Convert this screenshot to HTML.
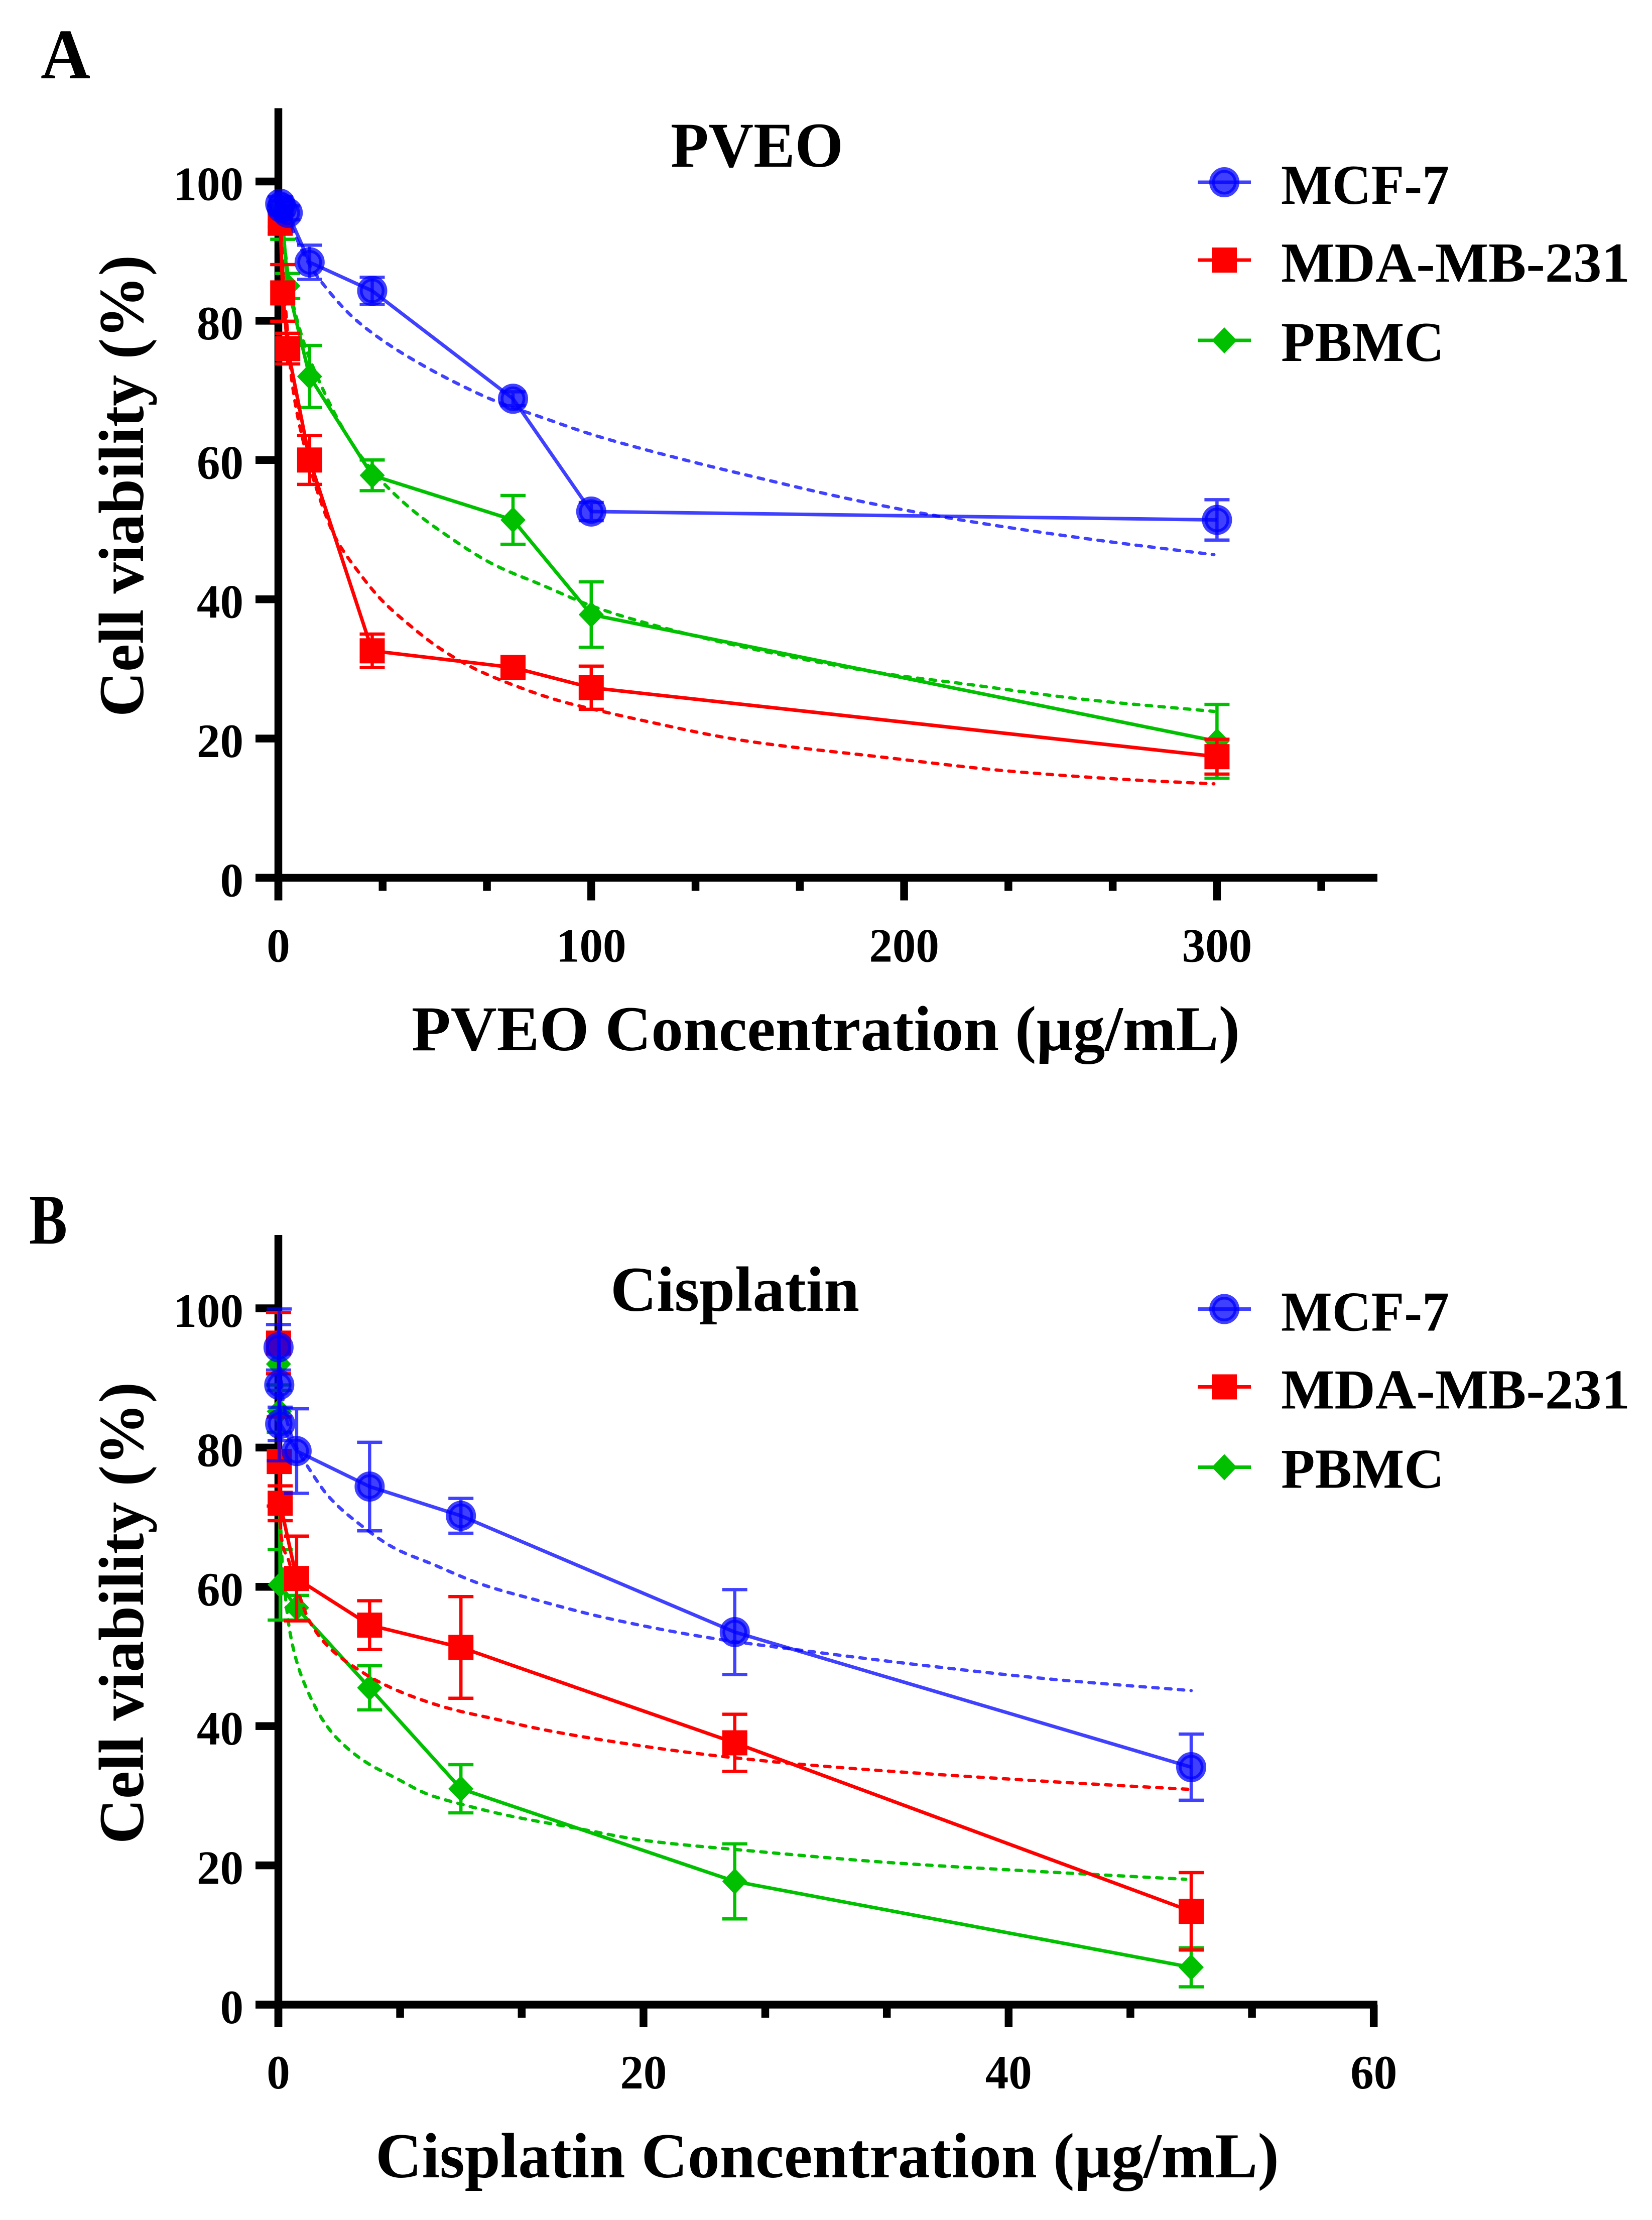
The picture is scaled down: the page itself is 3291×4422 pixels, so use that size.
<!DOCTYPE html>
<html lang="en">
<head>
<meta charset="utf-8">
<title>Cell viability: PVEO and Cisplatin</title>
<style>
html,body{margin:0;padding:0;background:#fff;}
svg{display:block;}
text{font-family:"Liberation Serif",serif;font-weight:bold;fill:#000;}
</style>
</head>
<body>
<svg id="figure" xmlns="http://www.w3.org/2000/svg" width="3291" height="4422" viewBox="0 0 3291 4422">
<rect x="0" y="0" width="3291" height="4422" fill="#fff"/>
<g id="panel-a"></g>
<g id="panel-b"></g>

<text x="81" y="156" font-size="142" textLength="99" lengthAdjust="spacingAndGlyphs">A</text>
<text x="1336" y="332" font-size="127" textLength="344" lengthAdjust="spacingAndGlyphs">PVEO</text>
<text transform="translate(285 1428) rotate(-90)" font-size="127" textLength="920" lengthAdjust="spacingAndGlyphs">Cell viability (%)</text>
<text x="820" y="2092" font-size="127" textLength="1650" lengthAdjust="spacingAndGlyphs">PVEO Concentration (µg/mL)</text>

<text x="58" y="2477" font-size="142" textLength="76" lengthAdjust="spacingAndGlyphs">B</text>
<text x="1216" y="2611" font-size="127" textLength="496" lengthAdjust="spacingAndGlyphs">Cisplatin</text>
<text transform="translate(285 3673) rotate(-90)" font-size="127" textLength="920" lengthAdjust="spacingAndGlyphs">Cell viability (%)</text>
<text x="748" y="4337" font-size="127" textLength="1800" lengthAdjust="spacingAndGlyphs">Cisplatin Concentration (µg/mL)</text>
</svg>

<script>
// ---------- Shared axis data ----------
const yTickValues = [0, 20, 40, 60, 80, 100];
const seriesNames = ['MCF-7', 'MDA-MB-231', 'PBMC'];

// ---------- Panel A (PVEO) data ----------
const aXMajor = [0, 100, 200, 300];
const aXMinor = [33.33, 66.67, 133.33, 166.67, 233.33, 266.67, 333.33];

const aMcfX = [0.6, 1.1, 3, 10, 30, 75, 100, 300];
const aMcfY = [96.8, 96.2, 95.5, 88.4, 84.3, 68.8, 52.6, 51.4];
const aMcfErr = [1, 1, 1, 2.45, 1.95, 1, 1.3, 2.9];
const aMcfFitX = [0.6, 3, 4.7, 10, 13.4, 23.6, 33.9, 46.2, 58.5, 68.7, 85, 100, 130, 150, 183.7, 214, 260, 299];
const aMcfFitY = [96.8, 95, 93, 88, 85.8, 80.6, 77, 73.6, 70.7, 68.6, 66, 63.7, 60, 57.8, 54.3, 51.7, 48.6, 46.4];

const aMdaX = [0.6, 1.4, 3, 10, 30, 75, 100, 300];
const aMdaY = [94, 84, 76, 60, 32.6, 30.2, 27.3, 17.4];
const aMdaErr = [1.5, 4.07, 2.2, 3.5, 2.4, 1, 3.1, 2.5];
const aMdaFitX = [0.6, 1.5, 3, 4.2, 7.8, 14, 18.2, 25.5, 32.8, 41.9, 50.8, 62, 75.6, 90, 101.6, 118.4, 140.9, 151.8, 191.7, 231.6, 271.5, 299];
const aMdaFitY = [96, 87, 78, 71.8, 63, 53.5, 48.9, 44, 40, 36.3, 33.2, 30.2, 27.6, 25.4, 24.1, 22.4, 20.3, 19.5, 17.4, 15.4, 14.1, 13.5];

const aPbmcX = [0.6, 1.4, 3, 10, 30, 75, 100, 300];
const aPbmcY = [95, 94, 85, 72, 57.8, 51.4, 37.8, 19.6];
const aPbmcErr = [1.5, 2.3, 1.8, 4.45, 2.2, 3.5, 4.7, 5.3];
const aPbmcFitX = [0.6, 3, 4.7, 14.4, 26.8, 40.8, 53.1, 68.8, 84.5, 100.4, 124, 155.5, 195.7, 218.4, 258, 299];
const aPbmcFitY = [97, 87, 82.4, 70, 60.3, 53.6, 49.4, 45, 42, 39, 35.8, 32.5, 29.2, 27.9, 25.6, 23.9];

// ---------- Panel B (Cisplatin) data ----------
const bXMajor = [0, 20, 40, 60];
const bXMinor = [6.67, 13.33, 26.67, 33.33, 46.67, 53.33];

const bMcfX = [0.01, 0.05, 0.1, 1, 5, 10, 25, 50];
const bMcfY = [94.4, 89, 83.4, 79.5, 74.4, 70.2, 53.5, 34.1];
const bMcfErr = [3.27, 10.9, 2.4, 6.07, 6.36, 2.5, 6.1, 4.75];
const bMcfFitX = [0.01, 0.3, 1, 1.65, 2.78, 4.45, 6.4, 8.4, 11.2, 14, 18, 23.8, 28.6, 35.4, 42.5, 50];
const bMcfFitY = [95, 86, 80, 77.1, 72.9, 69, 65.5, 63.3, 60.3, 58.2, 55.5, 52.6, 50.9, 48.7, 46.7, 45.1];

const bMdaX = [0.01, 0.05, 0.1, 1, 5, 10, 25, 50];
const bMdaY = [95, 78, 72, 61.2, 54.5, 51.3, 37.6, 13.4];
const bMdaErr = [4.4, 6.4, 2.5, 6.09, 3.5, 7.3, 4.1, 5.56];
const bMdaFitX = [0.01, 0.11, 0.6, 1, 1.68, 2.78, 4.5, 5.7, 7.6, 9.4, 11.9, 14.3, 18, 23.8, 29.6, 42.5, 50];
const bMdaFitY = [95, 68.3, 63.5, 60, 55.2, 51.3, 47.9, 46.1, 44, 42.5, 41, 39.6, 37.9, 35.8, 34.3, 32, 30.9];

const bPbmcX = [0.01, 0.05, 0.1, 1, 5, 10, 25, 50];
const bPbmcY = [92, 85.2, 60.3, 57, 45.5, 31, 17.7, 5.36];
const bPbmcErr = [3, 3, 5.07, 1.77, 3.17, 3.46, 5.39, 2.8];
const bPbmcFitX = [0.01, 0.1, 0.2, 0.38, 0.63, 1.07, 1.68, 2.4, 3.27, 4.75, 6.46, 8.2, 10, 12.5, 16.2, 20, 25.8, 33.5, 42.5, 49.7];
const bPbmcFitY = [92, 72, 64, 58.7, 53.6, 48.7, 44.6, 41, 38.1, 34.9, 32.5, 30.2, 28.8, 27.2, 25.4, 23.6, 22.1, 20.4, 19, 18];

// ---------- Drawing ----------
const NS = 'http://www.w3.org/2000/svg';
const BLUE = '#0000ff', RED = '#ff0000', GREEN = '#00c000';
const BLUE_ALPHA = 0.75;

function make(tag, attrs, parent) {
  const node = document.createElementNS(NS, tag);
  for (const key in attrs) node.setAttribute(key, attrs[key]);
  parent.appendChild(node);
  return node;
}

function pointsOf(xs, ys, sx, sy) {
  return xs.map((x, i) => sx(x).toFixed(1) + ',' + sy(ys[i]).toFixed(1)).join(' ');
}

// Monotone cubic path through the read curve samples, so fit curves stay smooth
function smoothPath(xs, ys, sx, sy) {
  const px = xs.map(sx), py = ys.map(sy), n = px.length;
  const d = [], m = [];
  for (let i = 0; i < n - 1; i++) d.push((py[i + 1] - py[i]) / (px[i + 1] - px[i]));
  m[0] = d[0];
  m[n - 1] = d[n - 2];
  for (let i = 1; i < n - 1; i++) {
    const h0 = px[i] - px[i - 1], h1 = px[i + 1] - px[i];
    m[i] = d[i - 1] * d[i] <= 0 ? 0 : (3 * (h0 + h1)) / ((2 * h1 + h0) / d[i - 1] + (h1 + 2 * h0) / d[i]);
  }
  let path = 'M' + px[0].toFixed(1) + ' ' + py[0].toFixed(1);
  for (let i = 0; i < n - 1; i++) {
    const h = (px[i + 1] - px[i]) / 3;
    path += 'C' + (px[i] + h).toFixed(1) + ' ' + (py[i] + m[i] * h).toFixed(1) + ' ' +
      (px[i + 1] - h).toFixed(1) + ' ' + (py[i + 1] - m[i + 1] * h).toFixed(1) + ' ' +
      px[i + 1].toFixed(1) + ' ' + py[i + 1].toFixed(1);
  }
  return path;
}

function drawMarker(kind, cx, cy, parent) {
  let m;
  if (kind === 'circle') {
    m = make('circle', {cx: cx, cy: cy, r: 24.5, fill: BLUE, 'fill-opacity': BLUE_ALPHA, stroke: BLUE, 'stroke-opacity': BLUE_ALPHA, 'stroke-width': 11}, parent);
  } else if (kind === 'square') {
    m = make('rect', {x: cx - 25, y: cy - 25, width: 50, height: 50, fill: RED}, parent);
  } else {
    m = make('polygon', {points: [cx - 25, cy, cx, cy - 26, cx + 25, cy, cx, cy + 26].join(' '), fill: GREEN}, parent);
  }
  return m;
}

function drawSeries(root, sx, sy, s) {
  const alpha = s.kind === 'circle' ? BLUE_ALPHA : 1;

  const fit = make('path', {d: smoothPath(s.fitX, s.fitY, sx, sy), fill: 'none', stroke: s.color, 'stroke-opacity': alpha, 'stroke-width': 6.5, 'stroke-linecap': 'round', 'stroke-dasharray': '11 14.5'}, root);
  
  

  const line = make('polyline', {points: pointsOf(s.x, s.y, sx, sy), fill: 'none', stroke: s.color, 'stroke-opacity': alpha, 'stroke-width': 7}, root);
  
  

  s.x.forEach((xv, i) => {
    const cx = sx(xv), top = sy(s.y[i] + s.err[i]), bot = sy(s.y[i] - s.err[i]);
    const d = 'M' + cx + ' ' + top + 'V' + bot + 'M' + (cx - 25) + ' ' + top + 'H' + (cx + 25) + 'M' + (cx - 25) + ' ' + bot + 'H' + (cx + 25);
    const bar = make('path', {d: d, fill: 'none', stroke: s.color, 'stroke-opacity': alpha, 'stroke-width': 6.5}, root);
    
    

    const marker = drawMarker(s.kind, cx, sy(s.y[i]), root);
    
    
  });
}

function drawPanel(root, prefix, p) {
  const sx = v => p.x0 + v * p.xk;
  const sy = v => p.y0 - v * 13.87;
  const TH = 15.5;

  // y axis line
  const yAxis = make('rect', {x: p.x0 - TH / 2, y: p.y0 - 1533, width: TH, height: 1533 + 45, fill: '#000'}, root);
  
  

  // x axis line
  const xAxis = make('rect', {x: 509, y: p.y0 - TH / 2, width: 2744 - 509, height: TH, fill: '#000'}, root);
  
  

  yTickValues.forEach(v => {
    const tick = make('rect', {x: 509, y: sy(v) - TH / 2, width: p.x0 - 509, height: TH, fill: '#000'}, root);
    
    

    const label = make('text', {x: 485, y: sy(v) + 37, 'font-size': 95, 'text-anchor': 'end', textLength: String(v).length * 46.5, lengthAdjust: 'spacingAndGlyphs'}, root);
    label.textContent = String(v);
    
    
  });

  p.xMajor.forEach(v => {
    const tick = make('rect', {x: sx(v) - TH / 2, y: p.y0, width: TH, height: 45, fill: '#000'}, root);
    
    

    const label = make('text', {x: sx(v), y: p.y0 + 167, 'font-size': 95, 'text-anchor': 'middle', textLength: String(v).length * 46.5, lengthAdjust: 'spacingAndGlyphs'}, root);
    label.textContent = String(v);
    
    
  });

  p.xMinor.forEach(v => {
    const tick = make('rect', {x: sx(v) - TH / 2, y: p.y0, width: TH, height: 26, fill: '#000'}, root);
    
    
  });

  // draw order: PBMC beneath MDA-MB-231 beneath MCF-7
  p.series.forEach(s => drawSeries(root, sx, sy, s));

  // legend
  const legendRows = [
    {name: seriesNames[0], kind: 'circle', color: BLUE, alpha: BLUE_ALPHA, lineY: 363, base: 406, width: 335, slug: 'mcf-7'},
    {name: seriesNames[1], kind: 'square', color: RED, alpha: 1, lineY: 518, base: 561, width: 695, slug: 'mda-mb-231'},
    {name: seriesNames[2], kind: 'diamond', color: GREEN, alpha: 1, lineY: 678, base: 719, width: 325, slug: 'pbmc'}
  ];
  legendRows.forEach(r => {
    const g = make('g', {}, root);
    
    

    const key = make('line', {x1: 2386, x2: 2492, y1: r.lineY + p.dy, y2: r.lineY + p.dy, stroke: r.color, 'stroke-opacity': r.alpha, 'stroke-width': 7}, g);
    
    

    const marker = drawMarker(r.kind, 2439, r.lineY + p.dy, g);
    
    

    const label = make('text', {x: 2552, y: r.base + p.dy, 'font-size': 112, textLength: r.width, lengthAdjust: 'spacingAndGlyphs'}, g);
    label.textContent = r.name;
    
    
  });
}

drawPanel(document.getElementById('panel-a'), 'panel-a', {
  x0: 554.5, xk: 6.233, y0: 1748.5, dy: 0,
  xMajor: aXMajor, xMinor: aXMinor,
  series: [
    {id: 'panel-a-pbmc', kind: 'diamond', color: GREEN, x: aPbmcX, y: aPbmcY, err: aPbmcErr, fitX: aPbmcFitX, fitY: aPbmcFitY},
    {id: 'panel-a-mda-mb-231', kind: 'square', color: RED, x: aMdaX, y: aMdaY, err: aMdaErr, fitX: aMdaFitX, fitY: aMdaFitY},
    {id: 'panel-a-mcf-7', kind: 'circle', color: BLUE, x: aMcfX, y: aMcfY, err: aMcfErr, fitX: aMcfFitX, fitY: aMcfFitY}
  ]
});

drawPanel(document.getElementById('panel-b'), 'panel-b', {
  x0: 554.5, xk: 36.37, y0: 3993, dy: 2244.5,
  xMajor: bXMajor, xMinor: bXMinor,
  series: [
    {id: 'panel-b-pbmc', kind: 'diamond', color: GREEN, x: bPbmcX, y: bPbmcY, err: bPbmcErr, fitX: bPbmcFitX, fitY: bPbmcFitY},
    {id: 'panel-b-mda-mb-231', kind: 'square', color: RED, x: bMdaX, y: bMdaY, err: bMdaErr, fitX: bMdaFitX, fitY: bMdaFitY},
    {id: 'panel-b-mcf-7', kind: 'circle', color: BLUE, x: bMcfX, y: bMcfY, err: bMcfErr, fitX: bMcfFitX, fitY: bMcfFitY}
  ]
});
</script>
</body>
</html>
